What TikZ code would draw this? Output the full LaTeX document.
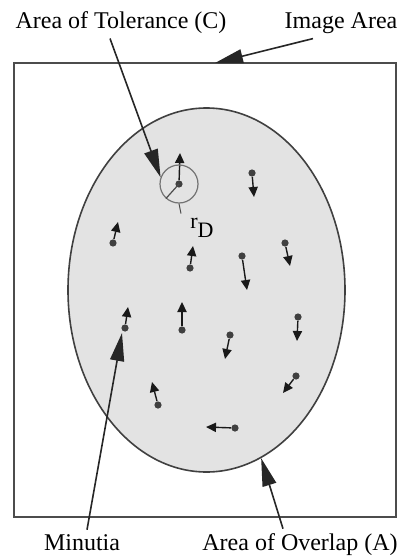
\documentclass[tikz,border=0pt]{standalone}
\usepackage{fontspec}
\setmainfont{Liberation Serif}
\usepackage{tikz}
\usetikzlibrary{shapes.geometric, arrows.meta, positioning, calc}
\tikzset{
  imgbox/.style={
    rectangle, draw=black!70, line width=1pt,
    minimum width=191pt, minimum height=227pt, inner sep=0pt},
  ovlarea/.style={
    ellipse, draw=black!75, fill=gray!22, line width=0.8pt,
    minimum width=138.5pt, minimum height=182pt, inner sep=0pt},
  tolring/.style={
    circle, draw=black!55, line width=0.6pt,
    minimum size=19pt, inner sep=0pt},
  lbl/.style={font=\fontsize{12}{14}\selectfont, inner sep=2pt, anchor=base},
  callout/.style={-{Triangle[length=14pt, width=7pt]}, line width=0.8pt, black!85},
  minarr/.style={-{Triangle[length=5pt, width=4.6pt]}, line width=0.7pt, black!90},
  mindot/.style={circle, fill=black!75, inner sep=0pt, minimum size=3.6pt},
}
\begin{document}
\begin{tikzpicture}[x=0.5pt, y=-0.5pt]
  \useasboundingbox (0,0) rectangle (399,556);
  \node[imgbox] (image) at (205,290) {};
  \node[ovlarea] (ovl) at (206.5,290) {};
  % minutiae: tail dot / arrow tip
  \foreach \dx/\dy/\tx/\ty [count=\i] in {
      179/184/180/153, 252/173/254/197, 113/243/118/222,
      190/268/193/246, 242/256/247/290, 285/243/290/266,
      125/328/128/307, 182/330/182/302, 298/317/297/341,
      230/335/225/359, 158/405/152/382, 296/376/283/393,
      235/428/206/427} {
    \node[mindot] (m\i) at (\dx,\dy) {};
    \coordinate (t\i) at (\tx,\ty);
    \draw[minarr] (m\i) -- (t\i);
  }
  \node[tolring] (tol) at (m1) {};
  \draw[line width=0.6pt, black!70] (tol.center) -- (tol.228);
  \draw[line width=0.5pt, black!70] (tol.south) -- ++(2,10);
  \node[lbl, anchor=base west, inner sep=0pt] (rd) at (190,228)
    {\fontsize{11}{13}\selectfont r\raisebox{-4.5pt}{D}};
  \node[lbl] (tollbl) at (121,29) {Area of Tolerance (C)};
  \node[lbl] (imglbl) at (341,29) {Image Area};
  \node[lbl] (minlbl) at (82,550) {Minutia};
  \node[lbl] (ovllbl) at (300,550) {Area of Overlap (A)};
  \coordinate (imgtip) at (215,63);
  \coordinate (mintip) at (122,333);
  \draw[callout] ($(tollbl.south)+(-11,0)$) -- (tol.160);
  \draw[callout] ($(imglbl.south)+(-28,0)$) -- (imgtip);
  \draw[callout] ($(minlbl.north)+(5,0)$) -- (mintip);
  \draw[callout] ($(ovllbl.north)+(-17,0)$) -- (ovl.-72);
\end{tikzpicture}
\end{document}
